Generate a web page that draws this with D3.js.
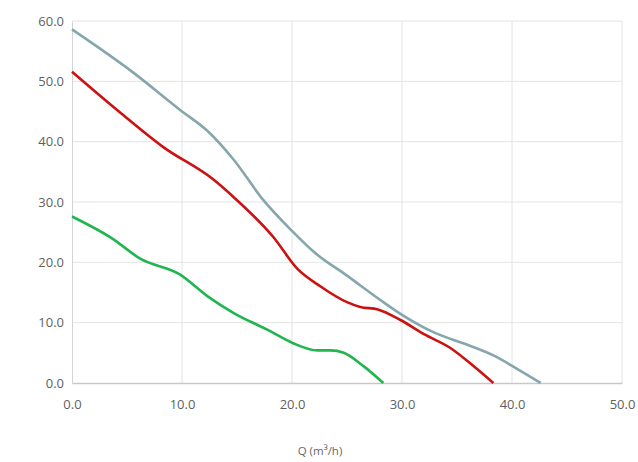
<!DOCTYPE html>
<html><head><meta charset="utf-8">
<script src="https://cdn.jsdelivr.net/npm/d3@7"></script>
<style>body{margin:0;background:#fff;font-family:"Segoe UI","Open Sans","DejaVu Sans",sans-serif}</style>
</head><body><svg id="c" width="638" height="462"></svg>
<script>
const xTicks = [0, 10, 20, 30, 40, 50];
const yTicks = [0, 10, 20, 30, 40, 50, 60];
const greyQ = [0, 5.6, 9.8, 12.3, 14.7, 17.4, 20.0, 22.0, 25.0, 28.0, 30.0, 33.0, 36.0, 38.5, 40.5, 42.6];
const greyP = [58.6, 51.4, 45.3, 41.8, 37.0, 30.3, 25.2, 21.7, 17.8, 13.8, 11.3, 8.3, 6.3, 4.4, 2.3, 0];
const redQ = [0, 4.4, 8.3, 12.8, 14.7, 18.3, 20.5, 22.6, 25.0, 26.2, 27.8, 29.9, 32.0, 34.4, 36.5, 38.3];
const redP = [51.6, 44.8, 39.1, 33.8, 30.8, 24.2, 18.9, 16.0, 13.4, 12.6, 12.2, 10.4, 8.1, 5.8, 2.8, 0];
const greenQ = [0, 3.7, 6.2, 9.8, 12.3, 14.7, 17.8, 20.1, 22.3, 23.5, 24.7, 26.5, 28.3];
const greenP = [27.6, 23.9, 20.6, 18.0, 14.4, 11.6, 8.8, 6.6, 5.4, 5.4, 5.0, 2.8, 0];

const svg = d3.select("#c");
const x = d3.scaleLinear().domain([0, 50]).range([72, 622]);
const y = d3.scaleLinear().domain([0, 60]).range([383, 21]);

// grid
svg.append("g").selectAll("line").data(xTicks.slice(1)).join("line")
  .attr("x1", d => x(d)).attr("x2", d => x(d)).attr("y1", y(60)).attr("y2", y(0))
  .attr("stroke", "#e4e4e4").attr("stroke-width", 1);
svg.append("g").selectAll("line").data(yTicks.slice(1)).join("line")
  .attr("x1", x(0)).attr("x2", x(50)).attr("y1", d => y(d)).attr("y2", d => y(d))
  .attr("stroke", "#e4e4e4").attr("stroke-width", 1);

// axes
const xa = svg.append("g").attr("transform", `translate(0,${y(0)})`)
  .call(d3.axisBottom(x).tickValues(xTicks).tickFormat(d3.format(".1f")).tickSize(0).tickPadding(17));
xa.select(".domain").attr("stroke", "#c8c8c8").attr("stroke-width", 1.5);
const ya = svg.append("g").attr("transform", `translate(${x(0)},0)`)
  .call(d3.axisLeft(y).tickValues(yTicks).tickFormat(d3.format(".1f")).tickSize(0).tickPadding(8));
ya.select(".domain").attr("stroke", "#d4d4d4").attr("stroke-width", 1);
svg.selectAll(".tick text").attr("fill", "#5f5f5f").attr("font-size", 13)
  .attr("font-family", "'Segoe UI','Open Sans','DejaVu Sans',sans-serif");

svg.append("text").attr("x", 320).attr("y", 455).attr("text-anchor", "middle")
  .attr("fill", "#666").attr("font-size", 11.5).text("Q (m³/h)");

const line = d3.line().x(d => x(d[0])).y(d => y(d[1])).curve(d3.curveMonotoneX);
const series = [
  {q: greenQ, p: greenP, c: "#21b550"},
  {q: redQ, p: redP, c: "#cc1111"},
  {q: greyQ, p: greyP, c: "#86a6ae"}
];
series.forEach(s => {
  svg.append("path").datum(d3.zip(s.q, s.p)).attr("d", line)
    .attr("fill", "none").attr("stroke", s.c).attr("stroke-width", 2.6)
    .attr("stroke-linejoin", "round");
});
</script></body></html>
